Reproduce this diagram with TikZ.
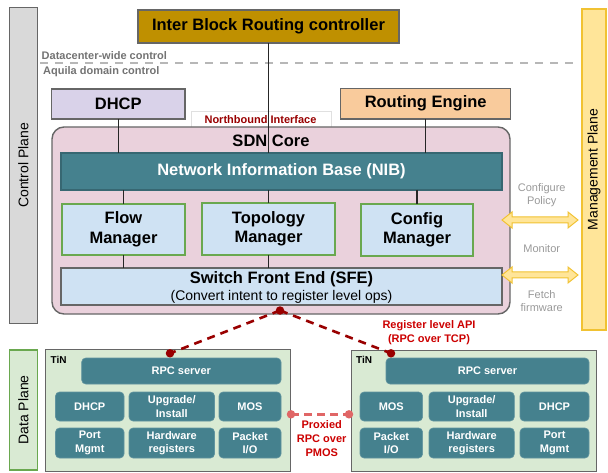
\documentclass[tikz,border=0pt]{standalone}
\usepackage{fontspec}
\setmainfont{Liberation Sans}
\definecolor{cpgray}{HTML}{D9D9D9}
\definecolor{edgegray}{HTML}{666666}
\definecolor{mgmtfill}{HTML}{FFE599}
\definecolor{mgmtedge}{HTML}{F1C232}
\definecolor{greenfill}{HTML}{D9EAD3}
\definecolor{greenedge}{HTML}{6AA84F}
\definecolor{gold}{HTML}{BF9000}
\definecolor{lavender}{HTML}{D9D2E9}
\definecolor{peach}{HTML}{F9CB9C}
\definecolor{pink}{HTML}{EAD1DC}
\definecolor{teal}{HTML}{45818E}
\definecolor{lightblue}{HTML}{CFE2F3}
\definecolor{darkred}{HTML}{990000}
\definecolor{brightred}{HTML}{CC0000}
\definecolor{lightred}{HTML}{E06666}
\definecolor{labelgray}{HTML}{999999}
\definecolor{linegray}{HTML}{B7B7B7}
\begin{document}
\begin{tikzpicture}[x=1pt,y=-1pt,
  box/.style={draw=edgegray, line width=1.1pt, inner sep=0pt, outer sep=0pt, align=center},
  bigfont/.style={font=\bfseries\fontsize{16.5}{19.5}\selectfont},
  planefont/.style={font=\fontsize{14}{16}\selectfont},
  smallbold/.style={font=\bfseries\fontsize{11}{14}\selectfont},
  graylbl/.style={font=\fontsize{11}{13}\selectfont, text=labelgray, align=center, inner sep=0pt},
  tinbox/.style={fill=teal, draw=teal!85!white, line width=0.6pt, rounded corners=4pt, inner sep=0pt, outer sep=0pt, text=white, align=center, font=\bfseries\fontsize{11}{13.5}\selectfont},
  conn/.style={draw=black!85, line width=1.3pt},
  reddash/.style={draw=darkred, line width=2.6pt, dash pattern=on 8pt off 6pt},
  dot/.style={circle, inner sep=0pt, minimum size=8.5pt},
  yarrow/.style={fill=mgmtfill, draw=mgmtedge, line width=1pt, line join=miter}
]
\useasboundingbox (0,0) rectangle (608,473);

% plane bars
\node[box, fill=cpgray, minimum width=28pt, minimum height=316pt] (ctrlbar) at (23.3,165.3) {};
\node[planefont, rotate=90] at (ctrlbar.center) {Control Plane};
\node[box, fill=greenfill, draw=greenedge, minimum width=28pt, minimum height=120pt] (databar) at (23.3,410) {};
\node[planefont, rotate=90] at (databar.center) {Data Plane};
\node[box, fill=mgmtfill, draw=mgmtedge, minimum width=24pt, minimum height=321pt] (mgmtbar) at (594,169.5) {};
\node[planefont, rotate=90] at (mgmtbar.center) {Management Plane};

% control domain split
\coordinate (dl) at (40,62.7);
\coordinate (dr) at (577,62.7);
\draw[draw=linegray, line width=2pt, dash pattern=on 8pt off 7pt] (dl) -- (dr);
\node[smallbold, text=black!55, anchor=west, inner sep=0pt] (dcw) at (41.5,55.5) {Datacenter-wide control};
\node[smallbold, text=black!55, anchor=west, inner sep=0pt] (aqd) at (43,72) {Aquila domain control};

% top boxes
\node[box, bigfont, fill=gold, draw=black!60, minimum width=261pt, minimum height=33pt] (ibr) at (268.5,26.5) {Inter Block Routing controller};
\node[box, bigfont, fill=lavender, minimum width=133.5pt, minimum height=30pt] (dhcpTop) at (118.25,104) {DHCP};
\node[box, bigfont, fill=peach, minimum width=170pt, minimum height=30.5pt] (routing) at (425.7,103.75) {Routing Engine};

% northbound label
\node[draw=black!12, fill=white, minimum width=140.5pt, minimum height=17pt, inner sep=0pt] (nbbox) at (261.25,119.75) {};
\node[smallbold, text=darkred, inner sep=0pt] (nb) at (260.5,119.3) {Northbound Interface};

% SDN core
\node[box, fill=pink, line width=1.4pt, rounded corners=12pt, minimum width=458pt, minimum height=187pt] (core) at (281,220.5) {};
\node[bigfont, inner sep=0pt] (coretxt) at (271,140.5) {SDN Core};
\node[box, fill=teal, draw=teal!80!black, text=white, bigfont, minimum width=441pt, minimum height=37pt] (nib) at (281.5,171.5) {Network Information Base (NIB)};
\node[box, bigfont, fill=lightblue, draw=greenedge, minimum width=123pt, minimum height=51pt] (flow) at (123.5,229.5) {Flow\\Manager};
\node[box, bigfont, fill=lightblue, draw=greenedge, minimum width=133pt, minimum height=52pt] (topo) at (268.5,229) {Topology\\Manager};
\node[box, bigfont, fill=lightblue, draw=greenedge, minimum width=112pt, minimum height=52pt] (config) at (417,230) {Config\\Manager};
\node[box, fill=lightblue, minimum width=441pt, minimum height=37pt] (sfe) at (281.5,286.5) {};
\node[bigfont, inner sep=0pt] (sfe1) at (281.5,279.5) {Switch Front End (SFE)};
\node[font=\fontsize{14}{16}\selectfont, inner sep=0pt] (sfe2) at (281.5,297) {(Convert intent to register level ops)};

% connectors
\draw[conn] (ibr.south) -- (ibr.south |- nib.north);
\draw[conn] (dhcpTop.south) -- (dhcpTop.south |- nib.north);
\draw[conn] (routing.south) -- (routing.south |- nib.north);
\draw[conn] (flow.north |- nib.south) -- (flow.north);
\draw[conn] (topo.north |- nib.south) -- (topo.north);
\draw[conn] (config.north |- nib.south) -- (config.north);
\draw[conn] (flow.south) -- (flow.south |- sfe.north);
\draw[conn] (topo.south) -- (topo.south |- sfe.north);

% management arrows
\coordinate (a1) at (502,220);
\coordinate (a2) at (502,275);
\foreach \a in {a1,a2}{
  \draw[yarrow] (\a) -- ++(10,-8) -- ++(0,5) -- ++(56,0) -- ++(0,-5) -- ++(10,8)
     -- ++(-10,8) -- ++(0,-5) -- ++(-56,0) -- ++(0,5) -- cycle;
}
\node[graylbl] (cfgp) at (541.7,195) {Configure\\[0.6pt]Policy};
\node[graylbl] (mon) at (541.7,248.3) {Monitor};
\node[graylbl] (fetch) at (541.7,301.2) {Fetch\\[0.6pt]firmware};

% TiN boxes
\node[box, fill=greenfill, line width=1pt, minimum width=245pt, minimum height=121.7pt] (tinL) at (168.2,410.15) {};
\node[box, fill=greenfill, line width=1pt, minimum width=244.3pt, minimum height=121pt] (tinR) at (473.85,410.5) {};
\node[font=\bfseries\fontsize{10}{12}\selectfont, anchor=west, inner sep=0pt] (tinLt) at (50.5,359.5) {TiN};
\node[font=\bfseries\fontsize{10}{12}\selectfont, anchor=west, inner sep=0pt] (tinRt) at (356,359.5) {TiN};

\node[tinbox, minimum width=199.3pt, minimum height=26pt] (rpcL) at (181.35,371) {RPC server};
\node[tinbox, minimum width=68.5pt, minimum height=29pt] (dhcpL) at (89.75,406.5) {DHCP};
\node[tinbox, minimum width=85.5pt, minimum height=29pt] (upgL) at (171.75,406.5) {Upgrade/\\Install};
\node[tinbox, minimum width=62pt, minimum height=29pt] (mosL) at (250,406.5) {MOS};
\node[tinbox, minimum width=68.5pt, minimum height=30pt] (portL) at (89.75,443) {Port\\Mgmt};
\node[tinbox, minimum width=85.5pt, minimum height=30pt] (hwL) at (171.75,443) {Hardware\\registers};
\node[tinbox, minimum width=62pt, minimum height=30pt] (pktL) at (250,443) {Packet\\I/O};

\node[tinbox, minimum width=203pt, minimum height=26pt] (rpcR) at (487.5,371) {RPC server};
\node[tinbox, minimum width=62.6pt, minimum height=29pt] (mosR) at (391.3,406.5) {MOS};
\node[tinbox, minimum width=85.3pt, minimum height=29pt] (upgR) at (471.65,406.5) {Upgrade/\\Install};
\node[tinbox, minimum width=69pt, minimum height=29pt] (dhcpR) at (554.5,406.5) {DHCP};
\node[tinbox, minimum width=62.6pt, minimum height=30pt] (pktR) at (391.3,443) {Packet\\I/O};
\node[tinbox, minimum width=85.3pt, minimum height=30pt] (hwR) at (471.65,443) {Hardware\\registers};
\node[tinbox, minimum width=69pt, minimum height=30pt] (portR) at (554.5,443) {Port\\Mgmt};

% register-level API links
\node[dot, fill=darkred] (dtop) at (280,310.5) {};
\node[dot, fill=darkred] (dleft) at (170,353.3) {};
\node[dot, fill=darkred] (dright) at (391,353.3) {};
\draw[reddash] (dtop.center) -- (dleft.center);
\draw[reddash] (dtop.center) -- (dright.center);
\node[smallbold, text=brightred, align=center, inner sep=0pt] (regapi) at (429,332.5) {Register level API\\(RPC over TCP)};

% proxied link
\node[dot, fill=lightred] (pl) at (291,414.3) {};
\node[dot, fill=lightred] (pr) at (349,414.3) {};
\draw[draw=lightred, line width=2.4pt, dash pattern=on 8pt off 5pt] (pl.center) -- (pr.center);
\node[smallbold, text=brightred, align=center, inner sep=0pt] (proxtxt) at (321.7,438.3) {Proxied\\RPC over\\PMOS};
\end{tikzpicture}
\end{document}
